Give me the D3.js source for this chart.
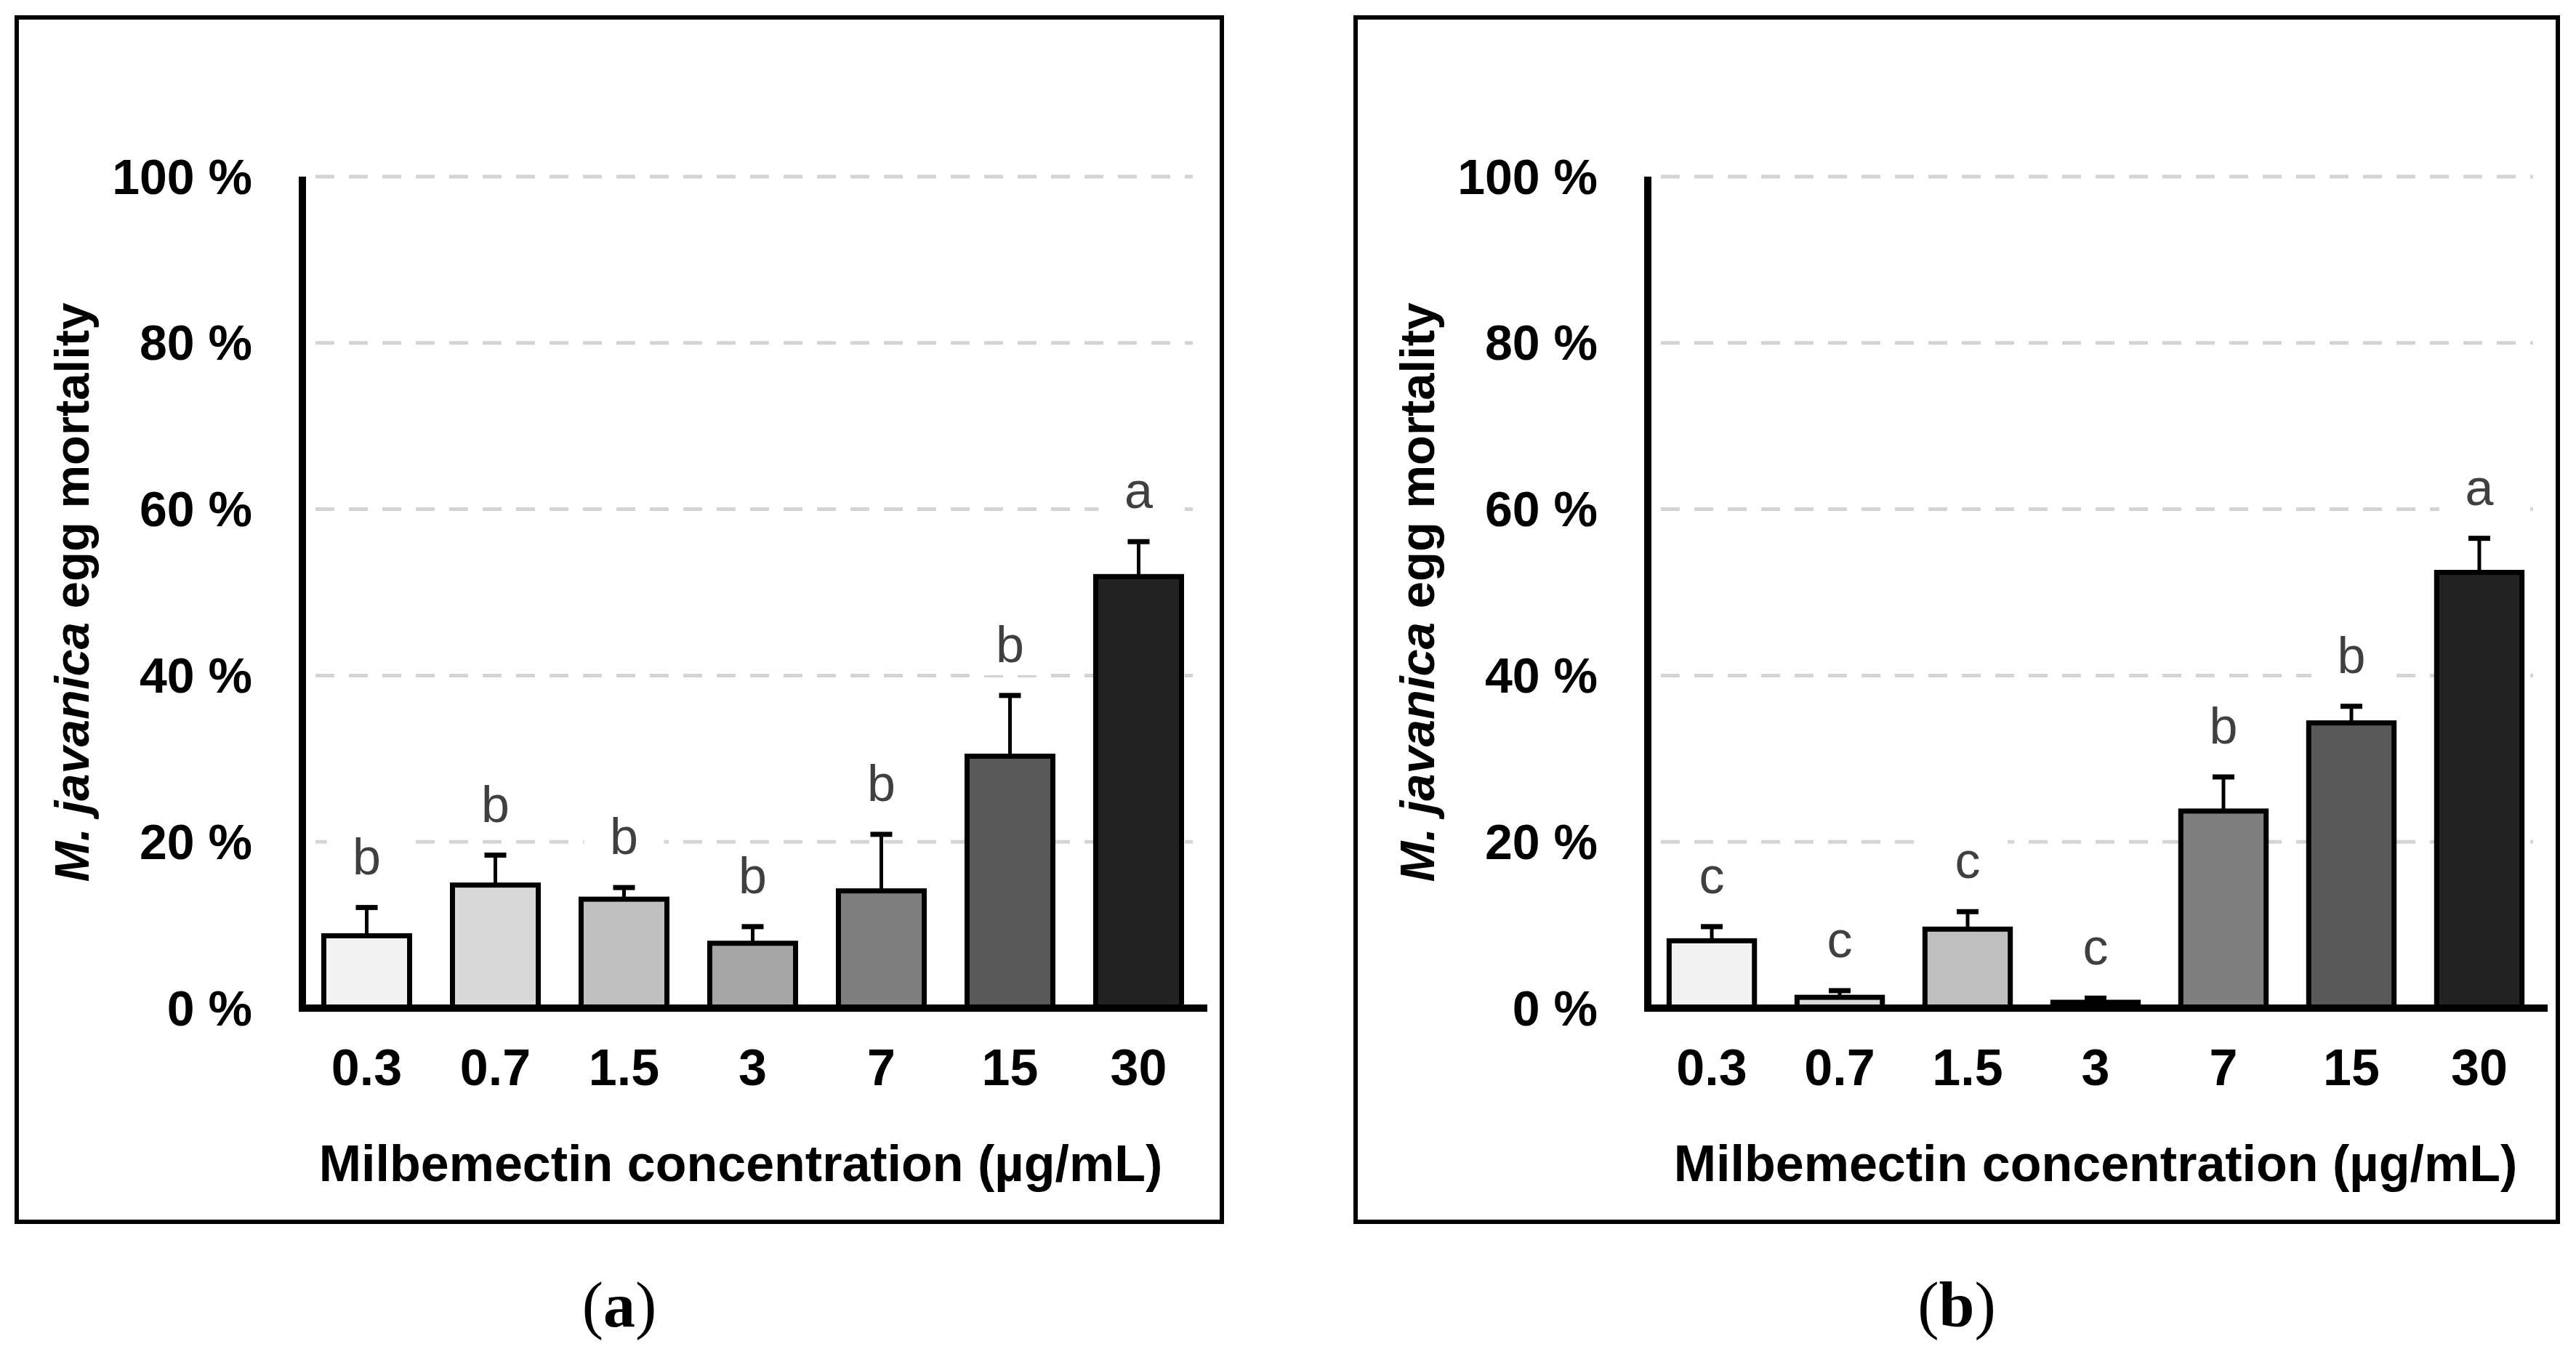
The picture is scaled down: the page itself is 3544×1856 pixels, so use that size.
<!DOCTYPE html>
<html>
<head>
<meta charset="utf-8">
<script src="https://cdn.jsdelivr.net/npm/d3@7"></script>
<style>
  html, body { margin: 0; padding: 0; background: #ffffff; }
  svg { display: block; }
</style>
</head>
<body>
<svg id="chart" width="3544" height="1856"></svg>
<script>
// ---------------- DATA ----------------
const concentrations = ["0.3", "0.7", "1.5", "3", "7", "15", "30"];
const yTicks = [0, 20, 40, 60, 80, 100];

const meanA = [8.7, 14.8, 13.1, 7.8, 14.1, 30.3, 51.9];
const errA  = [3.4, 3.6, 1.4, 2.0, 6.8, 7.3, 4.2];
const lettersA = ["b", "b", "b", "b", "b", "b", "a"];

const meanB = [8.1, 1.3, 9.5, 0.7, 23.7, 34.3, 52.4];
const errB  = [1.7, 0.8, 2.1, 0.5, 4.1, 2.0, 4.1];
const lettersB = ["c", "c", "c", "c", "b", "b", "a"];

const barFills = ["#f2f2f2", "#d9d9d9", "#bfbfbf", "#a6a6a6", "#7f7f7f", "#595959", "#222222"];

const xTitle = "Milbemectin concentration (\u00b5g/mL)";
const captions = ["a", "b"];

// ---------------- LAYOUT ----------------
const svg = d3.select("#chart");
const SANS = "'Liberation Sans', Arial, sans-serif";
const SERIF = "'Liberation Serif', 'Times New Roman', serif";

const panels = [
  { mean: meanA, err: errA, letters: lettersA, caption: captions[0],
    frame: [23, 24, 1681, 1681], axisX: 416, bandEnd: 1655, capX: 852, titleX: 1019 },
  { mean: meanB, err: errB, letters: lettersB, caption: captions[1],
    frame: [1865, 24, 3519, 1681], axisX: 2267, bandEnd: 3499, capX: 2692, titleX: 2883 }
];

const yTop = 243, yBottom = 1387;

panels.forEach(p => {
  const g = svg.append("g");

  // frame
  g.append("rect")
    .attr("x", p.frame[0]).attr("y", p.frame[1])
    .attr("width", p.frame[2] - p.frame[0]).attr("height", p.frame[3] - p.frame[1])
    .attr("fill", "#ffffff").attr("stroke", "#000").attr("stroke-width", 6);

  const x = d3.scaleBand().domain(concentrations)
    .range([p.axisX, p.bandEnd]).paddingInner(0.333).paddingOuter(0.1667);
  const y = d3.scaleLinear().domain([0, 100]).range([yBottom, yTop]);

  // gridlines
  g.append("g").selectAll("line").data(yTicks.filter(d => d > 0)).join("line")
    .attr("x1", p.axisX + 4).attr("x2", p.bandEnd - 14)
    .attr("y1", d => y(d)).attr("y2", d => y(d))
    .attr("stroke", "#d4d4d4").attr("stroke-width", 5)
    .attr("stroke-dasharray", "26,20").attr("stroke-dashoffset", -14);

  // y axis labels via d3 axis
  const yAxis = d3.axisLeft(y).tickValues(yTicks).tickSize(0).tickPadding(69)
    .tickFormat(d => d + " %");
  const ya = g.append("g").attr("transform", `translate(${p.axisX},0)`).call(yAxis);
  ya.select(".domain").remove();
  ya.selectAll("text")
    .attr("font-family", SANS).attr("font-weight", "bold").attr("font-size", 68)
    .attr("fill", "#000").attr("dy", "0.34em");

  // letter labels (white boxes covering gridlines)
  const lg = g.append("g");
  p.letters.forEach((L, i) => {
    const cx = x(concentrations[i]) + x.bandwidth() / 2;
    const by = y(p.mean[i] + p.err[i]) - 46;
    lg.append("rect").attr("x", cx - 55).attr("y", by - 62)
      .attr("width", 110).attr("height", 80).attr("fill", "#fff");
    lg.append("text").attr("x", cx).attr("y", by)
      .attr("text-anchor", "middle")
      .attr("font-family", SANS).attr("font-size", 70).attr("fill", "#404040")
      .text(L);
  });

  // error bars
  const eg = g.append("g");
  concentrations.forEach((c, i) => {
    const cx = x(c) + x.bandwidth() / 2;
    const top = y(p.mean[i] + p.err[i]);
    eg.append("line").attr("x1", cx).attr("x2", cx)
      .attr("y1", y(p.mean[i])).attr("y2", top)
      .attr("stroke", "#000").attr("stroke-width", 5);
    eg.append("line").attr("x1", cx - 15).attr("x2", cx + 15)
      .attr("y1", top).attr("y2", top)
      .attr("stroke", "#000").attr("stroke-width", 7);
  });

  // bars
  g.append("g").selectAll("rect").data(p.mean).join("rect")
    .attr("x", (d, i) => x(concentrations[i]))
    .attr("width", x.bandwidth())
    .attr("y", d => y(d))
    .attr("height", d => yBottom - y(d))
    .attr("fill", (d, i) => barFills[i])
    .attr("stroke", "#000").attr("stroke-width", 7);

  // x axis
  const xAxis = d3.axisBottom(x).tickSize(0).tickPadding(56);
  const xa = g.append("g").attr("transform", `translate(0,${yBottom})`).call(xAxis);
  xa.select(".domain").remove();
  xa.selectAll("text")
    .attr("font-family", SANS).attr("font-weight", "bold").attr("font-size", 70)
    .attr("fill", "#000");

  // axis lines
  g.append("line").attr("x1", p.axisX - 5).attr("x2", p.bandEnd + 6)
    .attr("y1", yBottom).attr("y2", yBottom)
    .attr("stroke", "#000").attr("stroke-width", 10);
  g.append("line").attr("x1", p.axisX).attr("x2", p.axisX)
    .attr("y1", yTop).attr("y2", yBottom + 5)
    .attr("stroke", "#000").attr("stroke-width", 10);

  // x title
  g.append("text")
    .attr("x", p.titleX).attr("y", 1625)
    .attr("text-anchor", "middle")
    .attr("font-family", SANS).attr("font-weight", "bold").attr("font-size", 70)
    .attr("fill", "#000").text(xTitle);

  // y title
  const yt = g.append("text")
    .attr("transform", `translate(${p.axisX - 294},${(yTop + yBottom) / 2}) rotate(-90)`)
    .attr("text-anchor", "middle")
    .attr("font-family", SANS).attr("font-weight", "bold").attr("font-size", 67)
    .attr("fill", "#000");
  yt.append("tspan").attr("font-style", "italic").text("M. javanica");
  yt.append("tspan").text(" egg mortality");

  // caption
  const cap = svg.append("text").attr("x", p.capX).attr("y", 1825)
    .attr("text-anchor", "middle")
    .attr("font-family", SERIF).attr("font-size", 88).attr("fill", "#000");
  cap.append("tspan").text("(");
  cap.append("tspan").attr("font-weight", "bold").text(p.caption);
  cap.append("tspan").text(")");
});
</script>
</body>
</html>
